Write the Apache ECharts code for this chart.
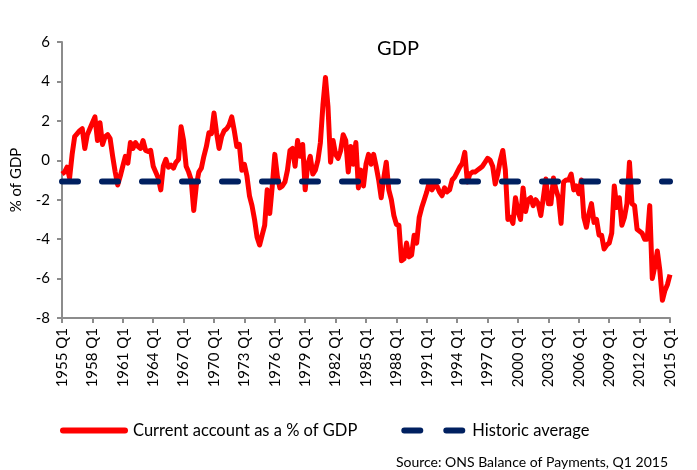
<!DOCTYPE html>
<html>
<head>
<meta charset="utf-8">
<title>GDP</title>
<script src="https://cdn.jsdelivr.net/npm/echarts@6/dist/echarts.min.js"></script>
<style>
	html, body { margin: 0; padding: 0; background: #fff; }
	#gdp { width: 697px; height: 470px; }
</style>
</head>
<body>
<div id="gdp"></div>
<script>
// 数据
var firstYear = 1955;
var lastYear = 2015;

// 经常账户占GDP百分比，每行一年（Q1..Q4）
var currentAccount = [
	-0.7, -0.6, -0.35, -0.9,   // 1955
	0.3, 1.2, 1.35, 1.5,       // 1956
	1.6, 0.6, 1.3, 1.6,        // 1957
	1.9, 2.2, 1.0, 1.9,        // 1958
	0.8, 1.2, 1.3, 1.1,        // 1959
	0.2, -0.6, -1.25, -0.8,    // 1960
	-0.3, 0.2, -0.15, 0.9,     // 1961
	0.6, 0.9, 0.7, 0.6,        // 1962
	1.0, 0.5, 0.45, 0.5,       // 1963
	-0.3, -0.6, -0.9, -1.5,    // 1964
	-0.3, 0.05, -0.35, -0.25,  // 1965
	-0.4, -0.1, 0.05, 1.7,     // 1966
	1.0, -0.3, -0.6, -1.0,     // 1967
	-2.55, -1.3, -0.6, -0.4,   // 1968
	0.2, 0.7, 1.4, 1.35,       // 1969
	2.4, 1.4, 0.6, 1.2,        // 1970
	1.5, 1.6, 1.8, 2.2,        // 1971
	1.5, 0.7, 0.8, -0.5,       // 1972
	-0.2, -0.8, -1.8, -2.3,    // 1973
	-3.0, -3.9, -4.3, -3.8,    // 1974
	-3.3, -1.5, -2.7, -1.3,    // 1975
	0.3, -0.8, -1.4, -1.3,     // 1976
	-1.1, -0.5, 0.5, 0.6,      // 1977
	-0.3, 1.0, 0.2, 0.8,       // 1978
	-1.5, -0.2, 0.2, -0.7,     // 1979
	-0.5, 0.0, 0.9, 2.8,       // 1980
	4.2, 2.7, -0.1, 1.0,       // 1981
	0.3, 0.1, 0.5, 1.3,        // 1982
	1.0, -0.6, 0.7, -0.2,      // 1983
	0.9, -1.4, -0.5, -1.3,     // 1984
	-0.2, 0.3, -0.2, 0.3,      // 1985
	-0.3, -1.0, -1.9, -0.9,    // 1986
	-0.1, -1.5, -2.0, -2.8,    // 1987
	-3.25, -3.3, -5.1, -5.0,   // 1988
	-4.2, -4.9, -4.8, -3.8,    // 1989
	-4.2, -2.9, -2.4, -2.0,    // 1990
	-1.6, -1.1, -1.5, -1.3,    // 1991
	-1.3, -1.6, -1.8, -1.4,    // 1992
	-1.6, -1.5, -1.0, -0.85,   // 1993
	-0.6, -0.35, -0.15, 0.4,   // 1994
	-1.1, -0.7, -0.6, -0.6,    // 1995
	-0.5, -0.4, -0.3, -0.1,    // 1996
	0.1, 0.0, -0.3, -1.2,      // 1997
	-0.7, 0.0, 0.5, -0.5,      // 1998
	-3.0, -2.9, -3.2, -1.9,    // 1999
	-2.6, -3.0, -1.4, -2.6,    // 2000
	-2.0, -1.9, -2.3, -2.0,    // 2001
	-2.2, -2.8, -1.9, -0.95,   // 2002
	-2.2, -2.2, -0.9, -1.5,    // 2003
	-1.9, -3.2, -1.1, -1.0,    // 2004
	-1.0, -0.7, -1.5, -1.3,    // 2005
	-1.7, -1.0, -2.9, -3.4,    // 2006
	-2.7, -2.2, -3.15, -3.0,   // 2007
	-3.8, -3.8, -4.5, -4.3,    // 2008
	-4.2, -3.7, -1.3, -2.4,    // 2009
	-1.9, -3.3, -2.9, -2.2,    // 2010
	-0.1, -2.2, -2.3, -3.5,    // 2011
	-3.6, -3.7, -4.0, -4.0,    // 2012
	-2.3, -6.0, -5.4, -4.6,    // 2013
	-5.6, -7.1, -6.6, -6.3,    // 2014
	-5.8                       // 2015
];

// 历史平均值（首尾两点）
var historicAverage = [
	['1955 Q1', -1.07],
	['2015 Q1', -1.07]
];

var yAxisRange = { min: -8, max: 6, interval: 2 };

var seriesNames = ['Current account as a % of GDP', 'Historic average'];

var main = {
	init: function() {
		main.gdp()
	},
	quarters: function() {
		var list = [];
		for (var y = firstYear; y <= lastYear; y++) {
			for (var q = 1; q <= 4; q++) {
				if (y === lastYear && q > 1) break;
				list.push(y + ' Q' + q);
			}
		}
		return list;
	},
	gdp: function() {
		var myChart = echarts.init(document.getElementById('gdp'));
		var cats = main.quarters();
		var font = 'Lato, "Open Sans", sans-serif';

		var option = {
			animation: false,
			textStyle: {
				fontFamily: font
			},
			title: {
				text: 'GDP',
				left: 393,
				top: 34,
				textAlign: 'center',
				textStyle: {
					fontFamily: font,
					fontSize: 20,
					fontWeight: 'normal',
					color: '#000'
				}
			},
			legend: {
				left: 55,
				top: 417,
				itemWidth: 68,
				itemHeight: 6,
				itemGap: 44,
				textStyle: {
					fontFamily: font,
					fontSize: 16.5,
					color: '#000'
				},
				data: [{
					name: seriesNames[0],
					icon: 'path://M3,0 H65 A3,3 0 0 1 65,6 H3 A3,3 0 0 1 3,0 Z'
				}, {
					name: seriesNames[1],
					// 两段虚线
					icon: 'path://M3,0 H19 A3,3 0 0 1 19,6 H3 A3,3 0 0 1 3,0 Z M45,0 H61 A3,3 0 0 1 61,6 H45 A3,3 0 0 1 45,0 Z'
				}]
			},
			graphic: [{
				type: 'text',
				right: 29,
				top: 455,
				style: {
					text: 'Source: ONS Balance of Payments, Q1 2015',
					font: '14px ' + font,
					fill: '#000'
				}
			}],
			grid: {
				left: 62,
				right: 27,
				top: 42,
				bottom: 152
			},
			xAxis: [{
				type: 'category',
				data: cats,
				boundaryGap: false,
				position: 'bottom',
				axisLine: {
					show: false
				},
				axisTick: {
					show: false
				},
				axisLabel: {
					interval: 11,
					rotate: 90,
					margin: 10,
					fontSize: 15,
					color: '#000'
				}
			}, {
				// 零轴
				type: 'category',
				data: cats,
				boundaryGap: false,
				position: 'bottom',
				axisLine: {
					show: true,
					onZero: true,
					lineStyle: {
						color: '#8c8c8c',
						width: 2
					}
				},
				axisTick: {
					show: true,
					interval: 11,
					length: 5,
					lineStyle: {
						color: '#8c8c8c',
						width: 2
					}
				},
				axisLabel: {
					show: false
				}
			}],
			yAxis: {
				type: 'value',
				min: yAxisRange.min,
				max: yAxisRange.max,
				interval: yAxisRange.interval,
				name: '% of GDP',
				nameLocation: 'middle',
				nameGap: 38,
				nameTextStyle: {
					fontFamily: font,
					fontSize: 15,
					color: '#000'
				},
				axisLine: {
					show: true,
					lineStyle: {
						color: '#8c8c8c',
						width: 2
					}
				},
				axisTick: {
					show: true,
					length: 5,
					lineStyle: {
						color: '#8c8c8c',
						width: 2
					}
				},
				axisLabel: {
					margin: 12,
					fontSize: 15,
					color: '#000'
				},
				splitLine: {
					show: false
				}
			},
			series: [{
				name: seriesNames[0],
				type: 'line',
				data: currentAccount,
				symbol: 'none',
				z: 3,
				lineStyle: {
					color: '#ff0000',
					width: 5,
					join: 'round'
				},
				itemStyle: {
					color: '#ff0000'
				}
			}, {
				name: seriesNames[1],
				type: 'line',
				data: historicAverage,
				symbol: 'none',
				z: 4,
				lineStyle: {
					color: '#002060',
					width: 6,
					type: [16, 24],
					cap: 'round'
				},
				itemStyle: {
					color: '#002060'
				}
			}]
		};

		myChart.setOption(option);
	}
}

main.init()
</script>
</body>
</html>
